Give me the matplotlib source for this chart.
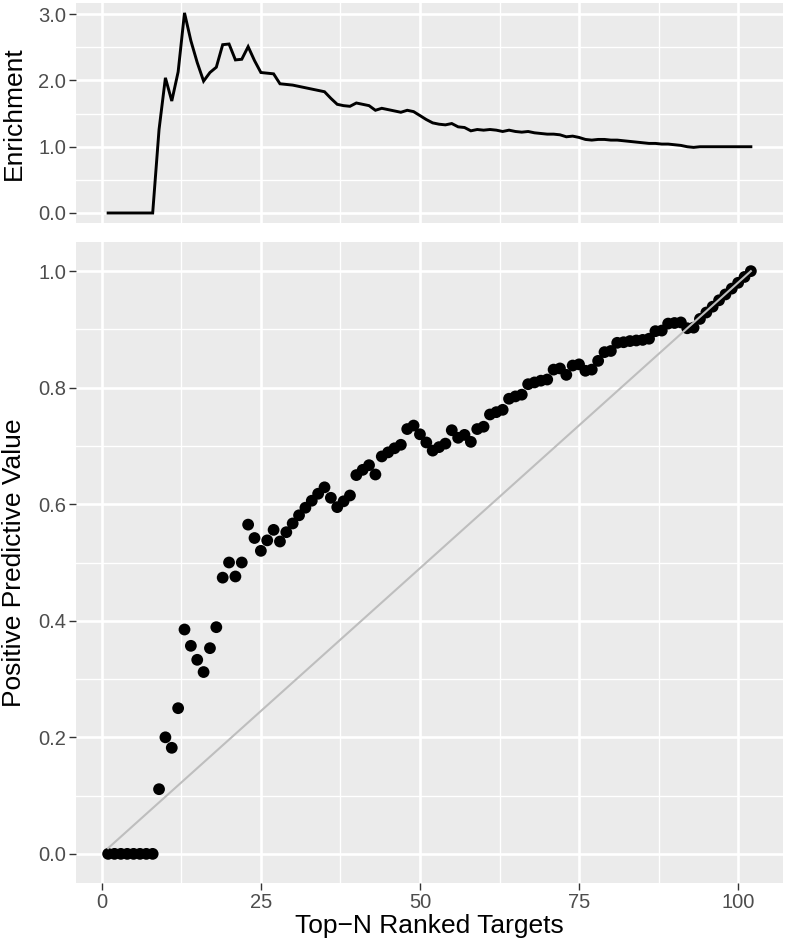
# encoding: utf-8

"""
Top-N ranked targets: enrichment (top) and positive predictive value (bottom)
ggplot2-like look with matplotlib
"""

import matplotlib
matplotlib.use("Agg")
import matplotlib.pyplot as plt
from matplotlib.ticker import MultipleLocator, FormatStrFormatter

# ランク (Top-N)
top_n = list(range(1, 103))

# Positive Predictive Value
ppv = [0, 0, 0, 0, 0, 0, 0, 0,
       0.111, 0.200, 0.182, 0.250, 0.385, 0.357, 0.333, 0.312, 0.353, 0.389, 0.474, 0.500,
       0.476, 0.500, 0.565, 0.542, 0.520, 0.538, 0.556, 0.536, 0.552, 0.567,
       0.581, 0.594, 0.606, 0.618, 0.629, 0.611, 0.595, 0.605, 0.615, 0.650,
       0.659, 0.667, 0.651, 0.682, 0.689, 0.696, 0.702, 0.729, 0.735, 0.720,
       0.706, 0.692, 0.698, 0.704, 0.727, 0.714, 0.719, 0.707, 0.729, 0.733,
       0.754, 0.758, 0.762, 0.781, 0.785, 0.788, 0.806, 0.809, 0.812, 0.814,
       0.831, 0.833, 0.822, 0.838, 0.840, 0.829, 0.831, 0.846, 0.861, 0.863,
       0.877, 0.878, 0.880, 0.881, 0.882, 0.884, 0.897, 0.898, 0.910, 0.911,
       0.912, 0.902, 0.903, 0.918, 0.929, 0.939, 0.950, 0.960, 0.970, 0.980,
       0.990, 1.000]

# Enrichment
enrichment = [0, 0, 0, 0, 0, 0, 0, 0,
              1.26, 2.04, 1.69, 2.13, 3.02, 2.60, 2.27, 1.99, 2.12, 2.20, 2.54, 2.55,
              2.31, 2.32, 2.51, 2.30, 2.12, 2.11, 2.10, 1.95, 1.94, 1.93,
              1.91, 1.89, 1.87, 1.85, 1.83, 1.73, 1.64, 1.62, 1.61, 1.66,
              1.64, 1.62, 1.55, 1.58, 1.56, 1.54, 1.52, 1.55, 1.53, 1.47,
              1.41, 1.36, 1.34, 1.33, 1.35, 1.30, 1.29, 1.24, 1.26, 1.25,
              1.26, 1.25, 1.23, 1.25, 1.23, 1.22, 1.23, 1.21, 1.20, 1.19,
              1.19, 1.18, 1.15, 1.16, 1.14, 1.11, 1.10, 1.11, 1.11, 1.10,
              1.10, 1.09, 1.08, 1.07, 1.06, 1.05, 1.05, 1.04, 1.04, 1.03,
              1.02, 1.00, 0.99, 1.00, 1.00, 1.00, 1.00, 1.00, 1.00, 1.00,
              1.00, 1.00]

# ランダム時の基準線
random_x = [1, 102]
random_y = [0.0098, 1.0]

x_ticks = [0, 25, 50, 75, 100]

plt.rcParams["font.family"] = ["Liberation Sans", "DejaVu Sans"]

W, H = 786, 948
fig = plt.figure(figsize=(W / 100, H / 100), dpi=100)


def ggplot_axes(ax, ylim, ymajor, yminor):
    """ ggplot2 の theme_gray 風の見た目 """
    ax.set_facecolor("#EBEBEB")
    for s in ax.spines.values():
        s.set_visible(False)
    ax.set_xlim(-4.05, 107.05)
    ax.set_ylim(*ylim)
    ax.xaxis.set_major_locator(MultipleLocator(25))
    ax.xaxis.set_minor_locator(MultipleLocator(12.5))
    ax.yaxis.set_major_locator(MultipleLocator(ymajor))
    ax.yaxis.set_minor_locator(MultipleLocator(yminor))
    ax.yaxis.set_major_formatter(FormatStrFormatter("%.1f"))
    ax.grid(which="major", color="white", linewidth=1.9)
    ax.grid(which="minor", color="white", linewidth=0.95)
    ax.set_axisbelow(True)
    ax.tick_params(which="major", length=4.75, width=1.0, color="#333333",
                   labelsize=14.5, labelcolor="#4D4D4D", pad=2.5)
    ax.tick_params(which="minor", length=0)


# 上段: Enrichment
ax1 = fig.add_axes([76 / W, 1 - 223 / H, 707 / W, 220 / H])
ggplot_axes(ax1, (-0.151, 3.169), 1.0, 0.5)
ax1.plot(top_n, enrichment, color="black", linewidth=2.1, solid_joinstyle="miter")
ax1.tick_params(axis="x", which="both", length=0, labelbottom=False)

# 下段: Positive Predictive Value
ax2 = fig.add_axes([76 / W, 1 - 883 / H, 707 / W, 641 / H])
ggplot_axes(ax2, (-0.05, 1.05), 0.2, 0.1)
ax2.scatter(top_n, ppv, s=72, color="black", edgecolors="none", zorder=3)
ax2.plot(random_x, random_y, color="#BEBEBE", linewidth=1.5, zorder=4)
ax2.set_xticks(x_ticks)
ax2.set_xticklabels([str(t) for t in x_ticks])

# 軸タイトル
fig.text(14 / W, 1 - 113 / H, "Enrichment", rotation=90, ha="center", va="center",
         fontsize=19)
fig.text(14 / W, 1 - 562.5 / H, "Positive Predictive Value", rotation=90,
         ha="center", va="center", fontsize=19)
fig.text(429.5 / W, 1 - 926 / H, "Top\u2212N Ranked Targets", ha="center",
         va="center", fontsize=19)

plt.savefig("out.png", dpi=100)
